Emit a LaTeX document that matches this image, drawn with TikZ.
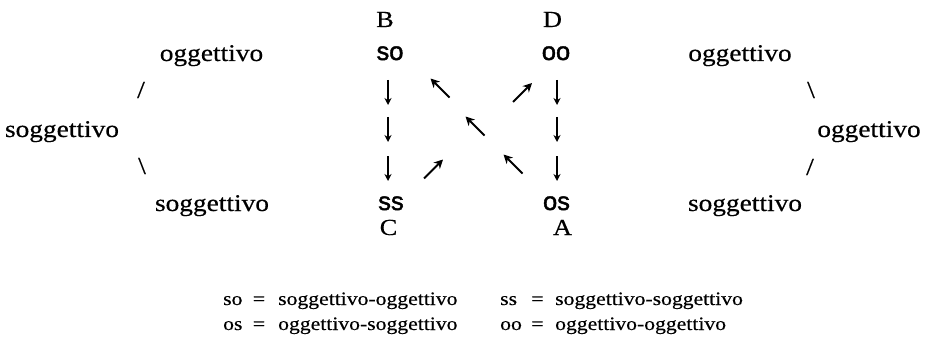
\documentclass[tikz,border=0pt]{standalone}
\usepackage{fontspec}
\setmainfont[FakeStretch=1.14,FakeBold=0.4]{Liberation Serif}
\newfontfamily\abbrfont[FakeBold=1.6]{Liberation Sans}
\usetikzlibrary{arrows.meta}
\tikzset{
 word/.style={anchor=base, inner sep=0pt, font=\fontsize{24}{28}\selectfont},
 slash/.style={anchor=center, inner sep=0pt, font=\fontsize{24}{28}\selectfont},
 abbr/.style={anchor=base, inner sep=0pt, font=\abbrfont\fontsize{25.5}{28}\selectfont},
 letter/.style={anchor=base, inner sep=0pt, font=\fontsize{23}{28}\selectfont},
 legend/.style={anchor=base west, inner sep=0pt, font=\fontsize{19}{22}\selectfont},
 legeq/.style={anchor=base, inner sep=0pt, font=\fontsize{19}{22}\selectfont},
 vbox/.style={inner sep=0pt, outer sep=0pt, minimum width=0pt, minimum height=25pt},
 dbox/.style={inner sep=0pt, outer sep=0pt, minimum size=19pt},
 down/.style={line width=1.2pt, -{Stealth[length=7pt,width=7pt]}},
 diag/.style={line width=2.1pt, -{Stealth[length=9pt,width=9pt]}},
}
\begin{document}
\begin{tikzpicture}[x=1pt,y=-1pt]
\useasboundingbox[fill=white] (0,0) rectangle (926,342);
% left group
\node[word] (lo) at (211.5,61) {oggettivo};
\node[slash] (ls1) at (141,90) {/};
\node[word] (ls) at (62,137) {soggettivo};
\node[slash] (ls2) at (142,166) {\textbackslash};
\node[word] (lb) at (212,211) {soggettivo};
% right group
\node[word] (ro) at (740,61) {oggettivo};
\node[slash] (rs1) at (811,90) {\textbackslash};
\node[word] (rm) at (869,137) {oggettivo};
\node[slash] (rs2) at (810,167) {/};
\node[word] (rb) at (745,211) {soggettivo};
% middle letters
\node[letter] (B) at (385,27) {B};
\node[letter] (D) at (552.5,27) {D};
\node[letter] (C) at (388.5,235) {C};
\node[letter] (A) at (562.5,235) {A};
\node[abbr] (so) at (390,60) {so};
\node[abbr] (oo) at (556,60) {oo};
\node[abbr] (ss) at (391,210) {ss};
\node[abbr] (os) at (556.5,210) {os};
% down arrows
\node[vbox] (l1) at (388,92.5) {};
\node[vbox] (l2) at (388,129.5) {};
\node[vbox] (l3) at (388,168.5) {};
\node[vbox] (r1) at (557,92.5) {};
\node[vbox] (r2) at (557,129.5) {};
\node[vbox] (r3) at (557,168.5) {};
\foreach \n in {l1,l2,l3,r1,r2,r3} \draw[down] (\n.north) -- (\n.south);
% diagonal arrows
\node[dbox] (d1) at (440,88) {};
\node[dbox] (d2) at (522.5,92.5) {};
\node[dbox] (d3) at (475,126) {};
\node[dbox] (d4) at (433.5,169) {};
\node[dbox] (d5) at (513,164) {};
\draw[diag] (d1.south east) -- (d1.north west);
\draw[diag] (d2.south west) -- (d2.north east);
\draw[diag] (d3.south east) -- (d3.north west);
\draw[diag] (d4.south west) -- (d4.north east);
\draw[diag] (d5.south east) -- (d5.north west);
% legend
\node[legend] (k1) at (223,305) {so};
\node[legeq] (e1) at (259,305) {=};
\node[legend] (m1) at (278,305) {soggettivo-oggettivo};
\node[legend] (k2) at (500,305) {ss};
\node[legeq] (e2) at (537.5,305) {=};
\node[legend] (m2) at (555,305) {soggettivo-soggettivo};
\node[legend] (k3) at (223,330) {os};
\node[legeq] (e3) at (259,330) {=};
\node[legend] (m3) at (278,330) {oggettivo-soggettivo};
\node[legend] (k4) at (500,330) {oo};
\node[legeq] (e4) at (537.5,330) {=};
\node[legend] (m4) at (555,330) {oggettivo-oggettivo};
\end{tikzpicture}
\end{document}
